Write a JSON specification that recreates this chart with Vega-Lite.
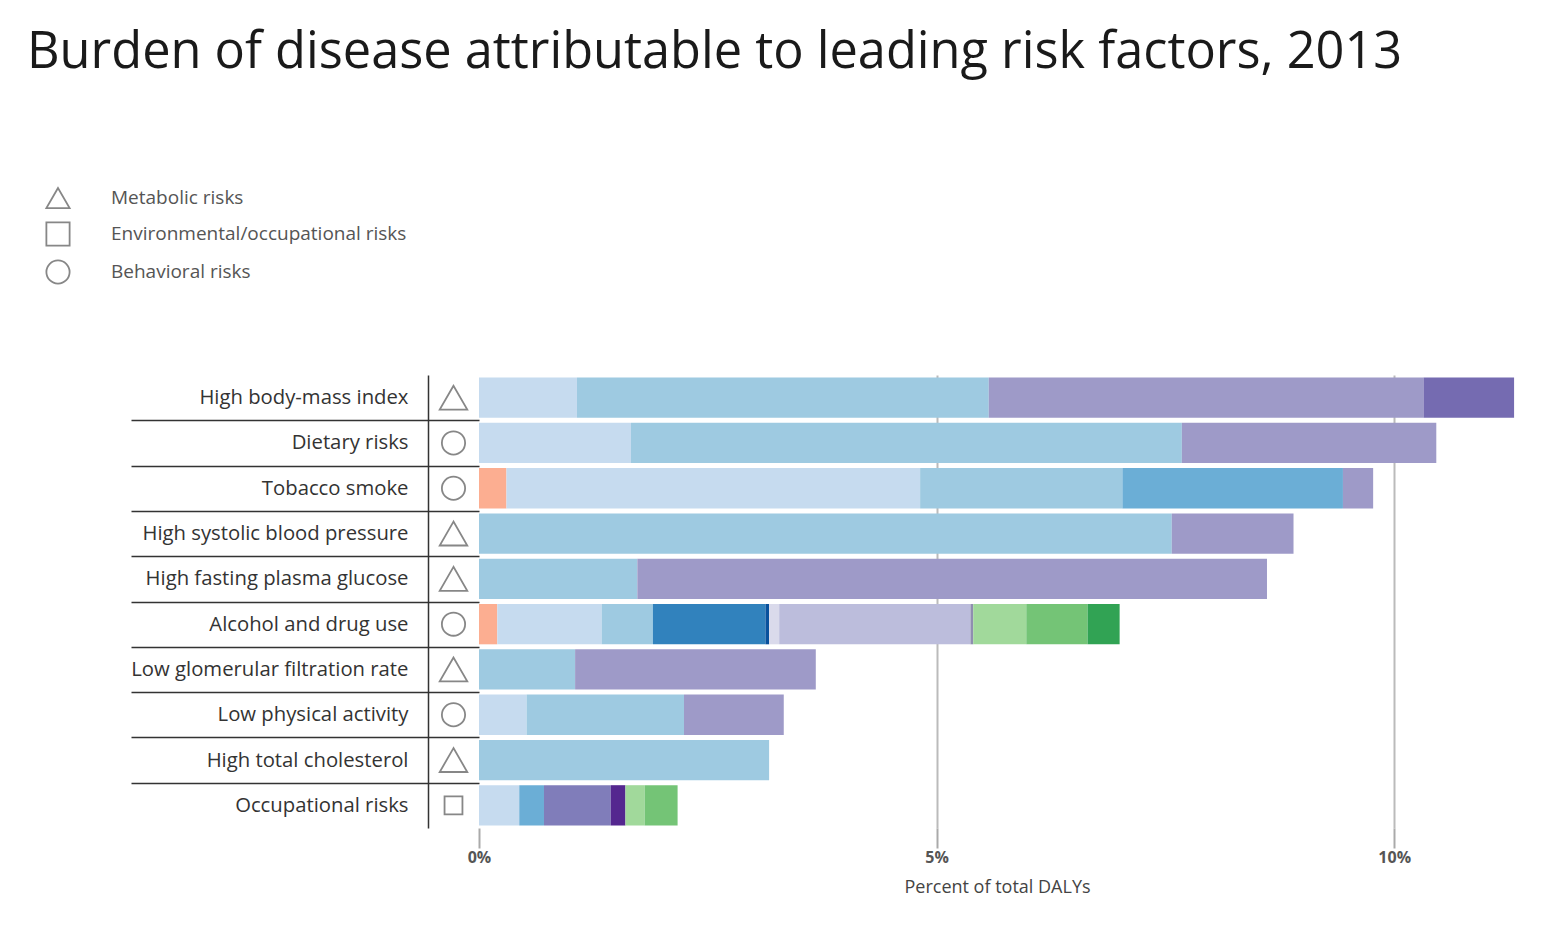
{
  "$schema": "https://vega.github.io/schema/vega-lite/v6.json",
  "background": "white",
  "padding": {"left": 27, "top": 27, "right": 5, "bottom": 5},
  "bounds": "flush",
  "title": {
    "text": "Burden of disease attributable to leading risk factors, 2013",
    "anchor": "start",
    "font": "Open Sans",
    "fontSize": 50.5,
    "fontWeight": "normal",
    "color": "#1a1a1a",
    "dx": -18,
    "offset": 107
  },
  "datasets": {
    "risks": [
      {"risk": "High body-mass index", "type": "Metabolic risks"},
      {"risk": "Dietary risks", "type": "Behavioral risks"},
      {"risk": "Tobacco smoke", "type": "Behavioral risks"},
      {"risk": "High systolic blood pressure", "type": "Metabolic risks"},
      {"risk": "High fasting plasma glucose", "type": "Metabolic risks"},
      {"risk": "Alcohol and drug use", "type": "Behavioral risks"},
      {"risk": "Low glomerular filtration rate", "type": "Metabolic risks"},
      {"risk": "Low physical activity", "type": "Behavioral risks"},
      {"risk": "High total cholesterol", "type": "Metabolic risks"},
      {"risk": "Occupational risks", "type": "Environmental/occupational risks"}
    ],
    "segments": [
      {"risk": "High body-mass index", "cause": "c02", "value": 1.07},
      {"risk": "High body-mass index", "cause": "c03", "value": 4.50},
      {"risk": "High body-mass index", "cause": "c10", "value": 4.75},
      {"risk": "High body-mass index", "cause": "c12", "value": 0.99},
      {"risk": "Dietary risks", "cause": "c02", "value": 1.66},
      {"risk": "Dietary risks", "cause": "c03", "value": 6.02},
      {"risk": "Dietary risks", "cause": "c10", "value": 2.78},
      {"risk": "Tobacco smoke", "cause": "c01", "value": 0.30},
      {"risk": "Tobacco smoke", "cause": "c02", "value": 4.52},
      {"risk": "Tobacco smoke", "cause": "c03", "value": 2.21},
      {"risk": "Tobacco smoke", "cause": "c04", "value": 2.41},
      {"risk": "Tobacco smoke", "cause": "c10", "value": 0.33},
      {"risk": "High systolic blood pressure", "cause": "c03", "value": 7.57},
      {"risk": "High systolic blood pressure", "cause": "c10", "value": 1.33},
      {"risk": "High fasting plasma glucose", "cause": "c03", "value": 1.73},
      {"risk": "High fasting plasma glucose", "cause": "c10", "value": 6.88},
      {"risk": "Alcohol and drug use", "cause": "c01", "value": 0.20},
      {"risk": "Alcohol and drug use", "cause": "c02", "value": 1.14},
      {"risk": "Alcohol and drug use", "cause": "c03", "value": 0.56},
      {"risk": "Alcohol and drug use", "cause": "c05", "value": 1.23},
      {"risk": "Alcohol and drug use", "cause": "c06", "value": 0.04},
      {"risk": "Alcohol and drug use", "cause": "c07", "value": 0.11},
      {"risk": "Alcohol and drug use", "cause": "c08", "value": 2.09},
      {"risk": "Alcohol and drug use", "cause": "c09", "value": 0.03},
      {"risk": "Alcohol and drug use", "cause": "c14", "value": 0.58},
      {"risk": "Alcohol and drug use", "cause": "c15", "value": 0.67},
      {"risk": "Alcohol and drug use", "cause": "c16", "value": 0.35},
      {"risk": "Low glomerular filtration rate", "cause": "c03", "value": 1.05},
      {"risk": "Low glomerular filtration rate", "cause": "c10", "value": 2.63},
      {"risk": "Low physical activity", "cause": "c02", "value": 0.52},
      {"risk": "Low physical activity", "cause": "c03", "value": 1.72},
      {"risk": "Low physical activity", "cause": "c10", "value": 1.09},
      {"risk": "High total cholesterol", "cause": "c03", "value": 3.17},
      {"risk": "Occupational risks", "cause": "c02", "value": 0.44},
      {"risk": "Occupational risks", "cause": "c04", "value": 0.27},
      {"risk": "Occupational risks", "cause": "c11", "value": 0.73},
      {"risk": "Occupational risks", "cause": "c13", "value": 0.16},
      {"risk": "Occupational risks", "cause": "c14", "value": 0.21},
      {"risk": "Occupational risks", "cause": "c15", "value": 0.36}
    ]
  },
  "hconcat": [
    {
      "width": 51,
      "height": 453,
      "data": {"name": "risks"},
      "mark": {"type": "point", "filled": false, "strokeWidth": 1.8, "color": "#555555"},
      "encoding": {
        "y": {
          "field": "risk",
          "type": "nominal",
          "sort": ["High body-mass index", "Dietary risks", "Tobacco smoke", "High systolic blood pressure", "High fasting plasma glucose", "Alcohol and drug use", "Low glomerular filtration rate", "Low physical activity", "High total cholesterol", "Occupational risks"],
          "scale": {"paddingInner": 0, "paddingOuter": 0},
          "axis": {
            "title": null,
            "orient": "left",
            "domain": true,
            "domainColor": "#333333",
            "domainWidth": 1.5,
            "ticks": true,
            "tickBand": "extent",
            "tickSize": 297,
            "tickColor": "#333333",
            "tickWidth": 1.5,
            "tickOpacity": {"condition": {"test": "datum.value == null || datum.value === 'Occupational risks'", "value": 0}, "value": 1},
            "grid": true,
            "gridColor": "#333333",
            "gridWidth": 1.5,
            "gridOpacity": {"condition": {"test": "datum.value == null || datum.value === 'Occupational risks'", "value": 0}, "value": 1},
            "labelPadding": -277,
            "labelLimit": 0,
            "labelFont": "Open Sans",
            "labelFontSize": 20.3,
            "labelColor": "#333333",
            "labelAlign": "right",
            "labelBaseline": "middle"
          }
        },
        "shape": {
          "field": "type",
          "type": "nominal",
          "scale": {"domain": ["Metabolic risks", "Environmental/occupational risks", "Behavioral risks"], "range": ["triangle-up", "square", "circle"]},
          "legend": {
            "title": null,
            "orient": "none",
            "legendX": -383,
            "legendY": -190,
            "labelLimit": 0,
            "labelFont": "Open Sans",
            "labelFontSize": 19,
            "labelColor": "#555555",
            "labelOffset": 40,
            "rowPadding": 6,
            "symbolSize": 540,
            "symbolStrokeColor": "#555555",
            "symbolStrokeWidth": 1.8
          }
        },
        "size": {
          "field": "type",
          "type": "nominal",
          "scale": {"domain": ["Environmental/occupational risks", "Behavioral risks", "Metabolic risks"], "range": [320, 760]},
          "legend": null
        }
      }
    },
    {
      "width": 1036,
      "height": 453,
      "data": {"name": "segments"},
      "mark": {"type": "bar"},
      "encoding": {
        "y": {
          "field": "risk",
          "type": "nominal",
          "sort": ["High body-mass index", "Dietary risks", "Tobacco smoke", "High systolic blood pressure", "High fasting plasma glucose", "Alcohol and drug use", "Low glomerular filtration rate", "Low physical activity", "High total cholesterol", "Occupational risks"],
          "scale": {"paddingInner": 0.11, "paddingOuter": 0.055},
          "axis": null
        },
        "x": {
          "field": "value",
          "type": "quantitative",
          "aggregate": "sum",
          "stack": "zero",
          "scale": {"domain": [0, 11.32], "nice": false, "zero": true},
          "axis": {
            "values": [0, 5, 10],
            "labelExpr": "datum.value + '%'",
            "labelFlush": false,
            "domain": false,
            "ticks": true,
            "tickSize": 20,
            "tickColor": "#aaaaaa",
            "tickWidth": 2,
            "grid": true,
            "gridColor": "#bbbbbb",
            "gridWidth": 2,
            "gridOpacity": {"condition": {"test": "datum.value === 0", "value": 0}, "value": 1},
            "labelFont": "Open Sans",
            "labelFontSize": 16,
            "labelFontWeight": "bold",
            "labelColor": "#555555",
            "labelPadding": 1,
            "title": "Percent of total DALYs",
            "titleFont": "Open Sans",
            "titleFontSize": 18,
            "titleFontWeight": "normal",
            "titleColor": "#444444",
            "titlePadding": 13
          }
        },
        "color": {
          "field": "cause",
          "type": "nominal",
          "scale": {
            "domain": ["c01", "c02", "c03", "c04", "c05", "c06", "c07", "c08", "c09", "c10", "c11", "c12", "c13", "c14", "c15", "c16"],
            "range": ["#fcae91", "#c6dbef", "#9ecae1", "#6baed6", "#3182bd", "#08519c", "#dadaeb", "#bcbddc", "#8f8fb0", "#9e9ac8", "#807dba", "#756bb1", "#54278f", "#a1d99b", "#74c476", "#31a354"]
          },
          "legend": null
        },
        "order": {"field": "cause", "sort": "ascending"}
      }
    }
  ],
  "spacing": 0,
  "config": {
    "view": {"stroke": null},
    "font": "Open Sans"
  }
}
